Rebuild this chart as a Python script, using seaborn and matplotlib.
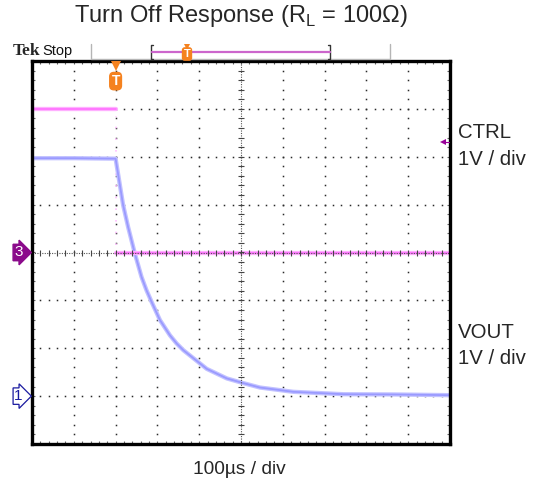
import numpy as np
import pandas as pd
import matplotlib
matplotlib.use("Agg")
import matplotlib.pyplot as plt
from matplotlib.lines import Line2D
import seaborn as sns

# ---------------- data ----------------
ctrl_time_us = [-200, 0, 0, 800]
ctrl_volts = [3.0, 3.0, 0.0, 0.0]
ctrl_segment = [0, 0, 1, 1]

vout_time_us = [-200, -100, 0, 18, 30, 46, 62, 74, 86, 106, 130, 146, 162,
                218, 266, 302, 345, 425, 545, 664, 800]
vout_volts = [4.97, 4.97, 4.96, 3.99, 3.53, 2.98, 2.49, 2.21, 1.97, 1.59,
              1.27, 1.10, 0.96, 0.57, 0.37, 0.28, 0.18, 0.09, 0.04, 0.035, 0.02]

ctrl_ground_div = 0.0      # channel 3 reference level (divisions from centre)
vout_ground_div = -3.0     # channel 1 reference level
volts_per_div = 1.0
trigger_level_v = 2.3

channel_names = ["CTRL", "VOUT"]
scale_labels = ["1V / div", "1V / div"]
title_text = "Turn Off Response (R$_\\mathregular{L}$ = 100Ω)"
time_label = "100µs / div"

# ---------------- style ----------------
sns.set_style("white")
plt.rcParams['font.family'] = ['Liberation Sans', 'DejaVu Sans']
plt.rcParams['mathtext.fontset'] = 'custom'
plt.rcParams['mathtext.rm'] = 'Liberation Sans'

W, H = 536, 484
fig = plt.figure(figsize=(W / 100, H / 100), dpi=100)
ax = fig.add_axes([32 / W, 40 / H, 418 / W, 383 / H])
ax.set_xlim(-200, 800)
ax.set_ylim(-4, 4)

def fx(x):
    return x / W

def fy(y):
    return 1 - y / H

def fline(xs, ys, **kw):
    fig.add_artist(Line2D([fx(v) for v in xs], [fy(v) for v in ys],
                          transform=fig.transFigure, **kw))

# ---------------- graticule ----------------
dot_c = '#2a2a2a'
xmaj = np.arange(-100, 800, 100)
ymaj = np.arange(-3, 4, 1)
yfine = np.arange(-4, 4.001, 0.2)
xfine = np.arange(-200, 800.1, 20)
for xv in xmaj:
    if xv == 300:
        continue
    ax.plot(np.full_like(yfine, xv), yfine, ls='none', marker='s', ms=1.1,
            mew=0, color=dot_c, zorder=1)
for yv in ymaj:
    if yv == 0:
        continue
    ax.plot(xfine, np.full_like(xfine, yv), ls='none', marker='s', ms=1.1,
            mew=0, color=dot_c, zorder=1)
# centre lines
ax.plot(np.full(2, 300), [-4, 4], ls=(0, (1, 1.2)), lw=0.8, color='#555555', zorder=5)
ax.plot([-200, 800], np.zeros(2), ls=(0, (1, 1.2)), lw=0.8, color='#555555', zorder=5)
ax.plot(np.full_like(yfine, 300), yfine, ls='none', marker='_', ms=4, mew=0.8,
        color='#444444', zorder=5)
ax.plot(xfine, np.zeros_like(xfine), ls='none', marker='|', ms=4, mew=0.8,
        color='#444444', zorder=5)
# border ticks
for yv in (-4, 4):
    ax.plot(xfine, np.full_like(xfine, yv), ls='none', marker='|', ms=5, mew=0.8,
            color='#666666', zorder=1)
for xv in (-200, 800):
    ax.plot(np.full_like(yfine, xv), yfine, ls='none', marker='_', ms=5, mew=0.8,
            color='#666666', zorder=1)

# ---------------- traces ----------------
df_vout = pd.DataFrame({
    't': vout_time_us,
    'div': np.array(vout_volts) / volts_per_div + vout_ground_div,
})
df_ctrl = pd.DataFrame({
    't': ctrl_time_us,
    'div': np.array(ctrl_volts) / volts_per_div + ctrl_ground_div,
    'seg': ctrl_segment,
})
sns.lineplot(data=df_vout, x='t', y='div', sort=False, color='#c2c2ff',
             lw=3.1, ax=ax, zorder=3)
sns.lineplot(data=df_vout, x='t', y='div', sort=False, color='#9a9aff',
             lw=1.3, ax=ax, zorder=3)
sns.lineplot(data=df_ctrl, x='t', y='div', units='seg', estimator=None,
             sort=False, color='#ffb0ff', lw=3.1, ax=ax, zorder=4)
sns.lineplot(data=df_ctrl, x='t', y='div', units='seg', estimator=None,
             sort=False, color='#ff74ff', lw=1.3, ax=ax, zorder=4)
ax.plot([0, 0], [ctrl_ground_div + 0.15, ctrl_volts[0] - 0.15], ls=(0, (1, 6)),
        lw=1.2, color='#ffc0ff', zorder=2)

ax.set_xlabel('')
ax.set_ylabel('')
ax.set_xticks([])
ax.set_yticks([])
for s in ax.spines.values():
    s.set_linewidth(2.4)
    s.set_color('black')
    s.set_zorder(6)

# trigger level indicator
ax.plot([800 - 17], [trigger_level_v / volts_per_div + ctrl_ground_div],
        marker='<', ms=5, color='#990099', mew=0, clip_on=False, zorder=7)
ax.plot([800 - 17, 800], [trigger_level_v + ctrl_ground_div] * 2,
        lw=0.8, color='#990099', zorder=7)

# trigger position marker (top inside)
ax.plot([0], [4 - 0.1], marker='v', ms=7, mew=0, color='#f5821f', zorder=7,
        clip_on=False)
ax.text(0, 4 - 0.42, 'T', ha='center', va='center', color='white',
        fontsize=10, fontweight='bold', zorder=8,
        bbox=dict(boxstyle='round,pad=0.12,rounding_size=0.3', fc='#f5821f',
                  ec='#f5821f'))

# channel ground markers
ax.text(-0.022, (ctrl_ground_div + 4) / 8, '3', transform=ax.transAxes,
        ha='right', va='center', color='white', fontsize=11, zorder=8,
        bbox=dict(boxstyle='rarrow,pad=0.08', fc='#8b0a8b', ec='#8b0a8b'),
        clip_on=False)
ax.text(-0.022, (vout_ground_div + 4) / 8, '1', transform=ax.transAxes,
        ha='right', va='center', color='#1a1aa0', fontsize=11, zorder=8,
        bbox=dict(boxstyle='rarrow,pad=0.08', fc='white', ec='#1a1aa0', lw=0.9),
        clip_on=False)

# ---------------- top status bar ----------------
fig.text(fx(13), fy(51), 'Tek', family=['Liberation Serif', 'DejaVu Serif'],
         fontweight='bold', fontsize=12.5, va='center', ha='left')
fig.text(fx(42), fy(51), 'Stop', fontsize=10.5, va='center', ha='left', color='#111111')
fline([91, 91, 390, 390], [44, 59, 59, 44], color='#b5b5b5', lw=1.0)
fline([153, 151, 151, 153], [45, 45, 59, 59], color='#333333', lw=1.0)
fline([328, 330, 330, 328], [45, 45, 59, 59], color='#333333', lw=1.0)
fline([152, 330], [52, 52], color='#cc66cc', lw=1.6)
fig.add_artist(Line2D([fx(187)], [fy(46.5)], marker='v', ms=5, mew=0,
                      color='#f5821f', transform=fig.transFigure))
fig.text(fx(187), fy(54), 'T', ha='center', va='center', color='white',
         fontsize=8, fontweight='bold',
         bbox=dict(boxstyle='round,pad=0.1,rounding_size=0.2', fc='#f5821f',
                   ec='#f5821f'))

# ---------------- labels ----------------
fig.text(fx(240.5), fy(16), title_text, ha='center', va='center', fontsize=17)
fig.text(fx(239), fy(469), time_label, ha='center', va='center', fontsize=13.8)
fig.text(fx(458), fy(133), channel_names[0], ha='left', va='center', fontsize=14.7)
fig.text(fx(458), fy(159), scale_labels[0], ha='left', va='center', fontsize=14.7)
fig.text(fx(458), fy(333), channel_names[1], ha='left', va='center', fontsize=14.7)
fig.text(fx(458), fy(359), scale_labels[1], ha='left', va='center', fontsize=14.7)

fig.savefig('out.png', dpi=100)
